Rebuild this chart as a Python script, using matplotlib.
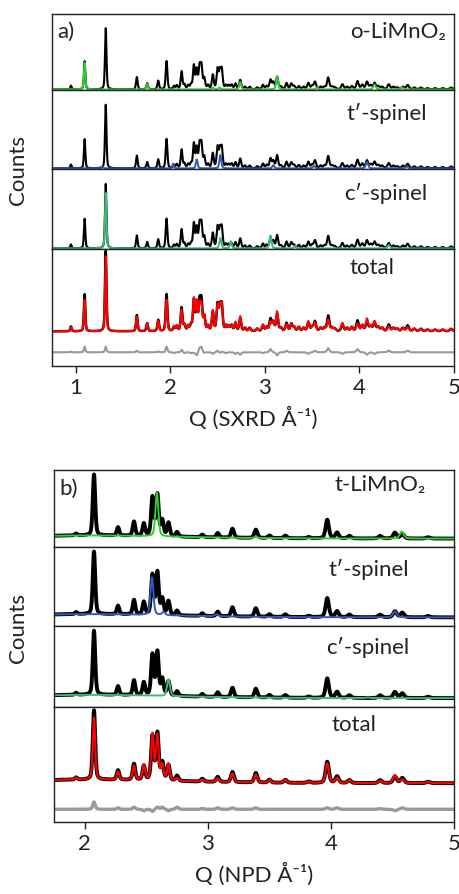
import numpy as np
import matplotlib.pyplot as plt

plt.rcParams['font.family'] = ['Lato', 'DejaVu Sans']
plt.rcParams['font.size'] = 16

# ---- SXRD (panel a) ----
sxrd_pos = [0.95, 1.095, 1.318, 1.647, 1.756, 1.873, 1.961, 2.04, 2.07, 2.12,
            2.15, 2.19, 2.22, 2.25, 2.28, 2.31, 2.33, 2.36, 2.40, 2.45,
            2.50, 2.525, 2.545, 2.59, 2.62, 2.65, 2.69, 2.74, 2.79, 2.84,
            2.92, 2.98, 3.02, 3.06, 3.09, 3.13, 3.17, 3.23, 3.28, 3.31,
            3.36, 3.41, 3.46, 3.50, 3.53, 3.59, 3.63, 3.67, 3.71, 3.74,
            3.82, 3.87, 3.92, 3.98, 4.03, 4.08, 4.12, 4.16, 4.20, 4.24,
            4.31, 4.36, 4.40, 4.46, 4.51, 4.58, 4.65, 4.72, 4.80, 4.88,
            4.97]
sxrd_obs = [0.06, 0.46, 1.00, 0.20, 0.10, 0.14, 0.46, 0.05, 0.06, 0.29,
            0.07, 0.06, 0.07, 0.38, 0.31, 0.35, 0.36, 0.17, 0.06, 0.23,
            0.32, 0.27, 0.30, 0.06, 0.06, 0.07, 0.09, 0.15, 0.04, 0.04,
            0.03, 0.07, 0.05, 0.15, 0.11, 0.20, 0.04, 0.10, 0.09, 0.05,
            0.05, 0.04, 0.10, 0.05, 0.12, 0.04, 0.04, 0.19, 0.04, 0.03,
            0.08, 0.04, 0.05, 0.13, 0.07, 0.12, 0.06, 0.10, 0.05, 0.04,
            0.08, 0.04, 0.03, 0.04, 0.07, 0.03, 0.03, 0.02, 0.02, 0.02,
            0.03]
sxrd_calc = [0.05, 0.39, 0.93, 0.18, 0.10, 0.13, 0.39, 0.06, 0.06, 0.26,
             0.08, 0.06, 0.08, 0.39, 0.35, 0.30, 0.30, 0.18, 0.06, 0.25,
             0.30, 0.28, 0.29, 0.07, 0.06, 0.07, 0.11, 0.18, 0.04, 0.04,
             0.03, 0.08, 0.05, 0.11, 0.11, 0.24, 0.04, 0.08, 0.09, 0.05,
             0.05, 0.04, 0.12, 0.05, 0.10, 0.04, 0.04, 0.14, 0.04, 0.03,
             0.10, 0.04, 0.05, 0.09, 0.07, 0.15, 0.06, 0.12, 0.05, 0.04,
             0.06, 0.04, 0.03, 0.04, 0.05, 0.03, 0.03, 0.02, 0.02, 0.02,
             0.03]

o_limno2_pos = [1.095, 1.756, 2.45, 2.52, 2.74, 3.13, 3.55, 4.16, 4.45]
o_limno2_int = [0.44, 0.09, 0.03, 0.03, 0.12, 0.21, 0.03, 0.08, 0.03]
sx_tspinel_pos = [1.283, 2.03, 2.28, 2.53, 3.09, 3.52, 4.08, 4.50]
sx_tspinel_int = [0.03, 0.07, 0.14, 0.21, 0.05, 0.04, 0.10, 0.03]
sx_cspinel_pos = [1.318, 2.53, 2.64, 3.06, 3.32, 4.31]
sx_cspinel_int = [0.86, 0.16, 0.11, 0.20, 0.04, 0.05]

# ---- NPD (panel b) ----
npd_pos = [2.075, 2.27, 2.40, 2.48, 2.55, 2.59, 2.63, 2.68, 2.75, 2.955,
           3.08, 3.20, 3.39, 3.50, 3.63, 3.82, 3.97, 4.05, 4.15, 4.40,
           4.52, 4.58, 4.79, 1.93]
npd_obs = [0.95, 0.13, 0.22, 0.19, 0.60, 0.64, 0.24, 0.21, 0.07, 0.04,
           0.07, 0.14, 0.13, 0.04, 0.04, 0.02, 0.29, 0.09, 0.04, 0.04,
           0.09, 0.07, 0.02, 0.03]
npd_calc = [0.85, 0.11, 0.19, 0.21, 0.63, 0.61, 0.21, 0.23, 0.04, 0.03,
            0.05, 0.12, 0.11, 0.04, 0.04, 0.02, 0.27, 0.07, 0.04, 0.03,
            0.11, 0.05, 0.02, 0.03]
npd_bg_pos = [2.05]
npd_bg_int = [0.05]

t_limno2_pos = [2.586, 3.39, 4.575]
t_limno2_int = [0.68, 0.02, 0.11]
np_tspinel_pos = [2.546, 2.64, 3.07, 4.52]
np_tspinel_int = [0.57, 0.05, 0.03, 0.09]
np_cspinel_pos = [2.68, 4.30]
np_cspinel_int = [0.25, 0.01]


def pattern(q, centers, heights, fwhm):
    # pseudo-Voigt peaks, widths growing slowly with Q
    y = np.zeros_like(q)
    for c, h in zip(centers, heights):
        w = fwhm * (1 + 0.25 * (c - 1))
        x = (q - c) / w
        y += h * (0.6 * np.exp(-4 * np.log(2) * x**2) + 0.4 / (1 + 4 * x**2))
    return y


W, H = 459, 894
fig = plt.figure(figsize=(W / 100, H / 100), dpi=100)


def make_axes(left, tops, bottoms, right=454):
    axs = []
    for t, b in zip(tops, bottoms):
        ax = fig.add_axes([left / W, 1 - b / H, (right - left) / W, (b - t) / H])
        ax.set_yticks([])
        for s in ax.spines.values():
            s.set_color('#222222')
            s.set_linewidth(1.0)
        axs.append(ax)
    for ax in axs[:-1]:
        ax.tick_params(axis='x', bottom=False, labelbottom=False)
    axs[-1].tick_params(axis='x', direction='out', length=5, width=1, pad=4,
                        labelsize=16, colors='#222222')
    return axs


def label(ax, text, dx, dy, ha='right'):
    xy = (1, 1) if ha == 'right' else (0, 1)
    ax.annotate(text, xy=xy, xycoords='axes fraction', xytext=(dx, -dy),
                textcoords='offset pixels', ha=ha, va='center', fontsize=16,
                color='#222222')


green = '#2fcc2f'
teal = '#3cb878'
blue = '#3358bf'

# ---- SXRD panels ----
q1 = np.linspace(0.75, 5.0, 4000)
sx_o = pattern(q1, sxrd_pos, sxrd_obs, 0.017)
sx_c = pattern(q1, sxrd_pos, sxrd_calc, 0.017)
axa = make_axes(52, [14, 90, 169, 249], [90, 169, 249, 366])
phases_a = [(o_limno2_pos, o_limno2_int, green, 'o-LiMnO₂', 8, 18),
            (sx_tspinel_pos, sx_tspinel_int, blue, 't′-spinel', 27, 23),
            (sx_cspinel_pos, sx_cspinel_int, teal, 'c′-spinel', 27, 24)]
for ax, (pos, inten, col, name, dx, dy) in zip(axa, phases_a):
    ax.plot(q1, sx_o, color='black', lw=1.5)
    ax.plot(q1, pattern(q1, pos, inten, 0.017), color=col, lw=1.4)
    ax.set_ylim(-0.01, 1.23)
    label(ax, name, -dx, dy)
axa[3].plot(q1, sx_o, color='black', lw=1.8)
axa[3].plot(q1, sx_c, color='red', lw=1.5)
axa[3].plot(q1, sx_o - sx_c - 0.26, color='#999999', lw=1.5)
axa[3].set_ylim(-0.43, 1.02)
label(axa[3], 'total', -60, 19)
label(axa[0], 'a)', 5, 18, ha='left')
for ax in axa:
    ax.set_xlim(0.75, 5.0)
axa[3].set_xticks([1, 2, 3, 4, 5])
axa[3].set_xlabel('Q (SXRD Å⁻¹)', fontsize=16, labelpad=6, color='#222222')
fig.text(18 / W, 1 - 170 / H, 'Counts', rotation=90, ha='center', va='center',
         fontsize=16, color='#222222')

# ---- NPD panels ----
q2 = np.linspace(1.75, 5.0, 3000)
bg = pattern(q2, npd_bg_pos, npd_bg_int, 1.3)
np_o = pattern(q2, npd_pos, npd_obs, 0.018) + bg
np_c = pattern(q2, npd_pos, npd_calc, 0.018) + bg
axb = make_axes(54, [470, 547, 626, 707], [547, 626, 707, 822])
phases_b = [(t_limno2_pos, t_limno2_int, green, 't-LiMnO₂', 28, 15),
            (np_tspinel_pos, np_tspinel_int, blue, 't′-spinel', 45, 23),
            (np_cspinel_pos, np_cspinel_int, teal, 'c′-spinel', 45, 22)]
for ax, (pos, inten, col, name, dx, dy) in zip(axb, phases_b):
    ax.plot(q2, np_o, color='black', lw=2.8)
    ax.plot(q2, pattern(q2, pos, inten, 0.02) + bg, color=col, lw=1.4)
    ax.set_ylim(-0.13, 1.07)
    label(ax, name, -dx, dy)
axb[3].plot(q2, np_o, color='black', lw=2.8)
axb[3].plot(q2, np_c, color='red', lw=1.5)
axb[3].plot(q2, np_o - np_c - 0.356, color='#999999', lw=2.4)
axb[3].set_ylim(-0.53, 1.045)
label(axb[3], 'total', -78, 18)
label(axb[0], 'b)', 5, 19, ha='left')
for ax in axb:
    ax.set_xlim(1.75, 5.0)
axb[3].set_xticks([2, 3, 4, 5])
axb[3].set_xlabel('Q (NPD Å⁻¹)', fontsize=16, labelpad=6, color='#222222')
fig.text(18 / W, 1 - 628 / H, 'Counts', rotation=90, ha='center', va='center',
         fontsize=16, color='#222222')

fig.savefig('out.png', dpi=100)
